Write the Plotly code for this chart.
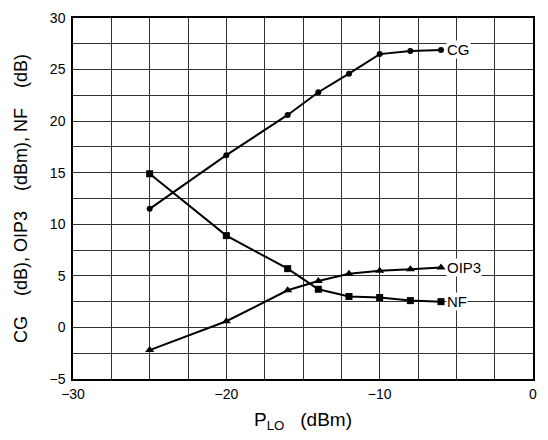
import plotly.graph_objects as go

p_lo = [-25, -20, -16, -14, -12, -10, -8, -6]
cg = [11.5, 16.7, 20.6, 22.8, 24.6, 26.5, 26.8, 26.9]
oip3 = [-2.2, 0.6, 3.6, 4.5, 5.2, 5.5, 5.65, 5.8]
nf = [14.9, 8.9, 5.7, 3.7, 3.0, 2.9, 2.6, 2.5]
series_names = ["CG", "OIP3", "NF"]
x_ticks = [-30, -20, -10, 0]
y_ticks = [-5, 0, 5, 10, 15, 20, 25, 30]

FONT = "Liberation Sans, Arial, sans-serif"
SP = "\u00a0"
fig = go.Figure()
line = dict(color="black", width=2)
for name, ys, sym, sz in [
    ("CG", cg, "circle", 6),
    ("OIP3", oip3, "triangle-up", 8),
    ("NF", nf, "square", 7),
]:
    fig.add_trace(go.Scatter(x=p_lo, y=ys, mode="lines+markers", name=name,
                             line=line, marker=dict(symbol=sym, size=sz, color="black"),
                             showlegend=False))
    fig.add_annotation(x=p_lo[-1], y=ys[-1], text=name, xanchor="left", yanchor="middle",
                       xshift=5, showarrow=False, bgcolor="white", borderpad=0,
                       font=dict(family=FONT, size=15, color="black"))

grid_col = "#333333"
fig.update_xaxes(range=[-30, 0], tickmode="array", tickvals=x_ticks,
                 showgrid=True, gridcolor=grid_col, gridwidth=1,
                 minor=dict(dtick=2.5, showgrid=True, gridcolor=grid_col, gridwidth=1, tick0=0),
                 showline=True, linecolor="black", linewidth=1.5, mirror=True,
                 zeroline=False, ticks="", ticklabelstandoff=1, ticklabeloverflow="allow",
                 tickfont=dict(family=FONT, size=14, color="black"),
                 title=dict(text="P<sub>LO</sub>" + SP * 3 + "(dBm)", standoff=12,
                            font=dict(family=FONT, size=19, color="black")))
fig.update_yaxes(range=[-5, 30], tickmode="array", tickvals=y_ticks,
                 showgrid=True, gridcolor=grid_col, gridwidth=1,
                 minor=dict(dtick=2.5, showgrid=True, gridcolor=grid_col, gridwidth=1, tick0=0),
                 showline=True, linecolor="black", linewidth=1.5, mirror=True,
                 zeroline=False, ticks="", ticklabelstandoff=3, ticklabeloverflow="allow",
                 tickfont=dict(family=FONT, size=14, color="black"),
                 title=dict(text="CG" + SP * 4 + "(dB), OIP3" + SP * 4 + "(dBm), NF" + SP * 4 + "(dB)",
                            standoff=17, font=dict(family=FONT, size=18, color="black")))
fig.update_layout(width=548, height=440, margin=dict(l=73, r=15, t=10, b=61),
                  plot_bgcolor="white", paper_bgcolor="white")
# remove the default 8px page margin so the figure fills the window exactly
fig.write_html("out.html", config={"displayModeBar": False},
               post_script="document.body.style.margin='0';document.body.style.overflow='hidden';")
